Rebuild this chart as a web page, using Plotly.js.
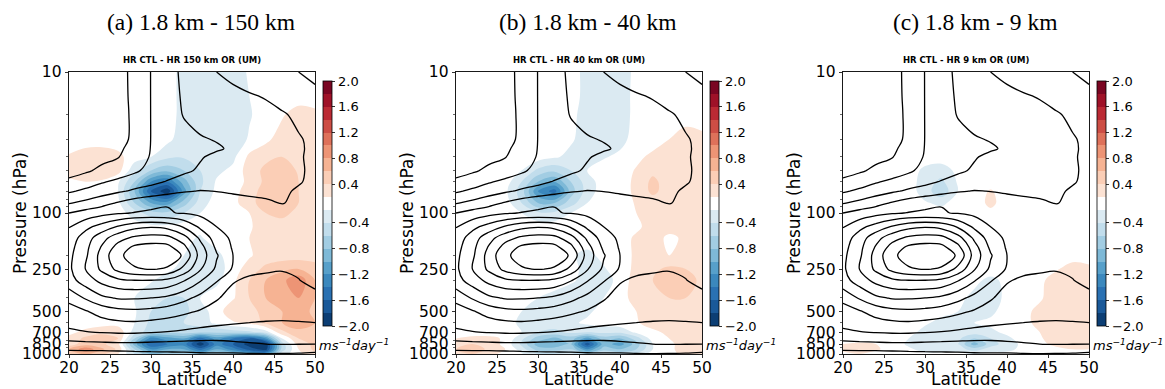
<!DOCTYPE html>
<html>
<head>
<meta charset="utf-8">
<script src="https://cdn.plot.ly/plotly-3.0.1.min.js"></script>
<style>html,body{margin:0;padding:0;background:#fff;}#chart{width:1165px;height:389px;}</style>
</head>
<body>
<div id="chart"></div>
<script>
// ---------------- DATA ----------------
const lats = [20,22,24,26,28,30,32,34,36,38,40,42,44,46,48,50];

// Pressure levels (hPa) for the control zonal wind (black contours)
const pWind = [10,15,20,30,35,40,50,60,70,85,100,125,150,175,200,250,300,400,500,600,700,850,1000];
// Zonal wind (m/s), rows = pWind, cols = lats
const windCTL = [
  [-8,-6,-4,-2,1.5,5.1,8.5,10.8,13,15,16,17,18,19,20,21],
  [-7,-5.5,-3.5,-1.8,1.2,5.1,8.3,10.5,12,13,14,14.6,15.2,16.5,18,19],
  [-6,-4.5,-3,-1.5,0.8,5.1,8.2,10.2,11.3,12.3,13,13.5,14,14.6,15.8,17],
  [-5,-3.5,-2,-1,0.6,5.1,7.8,8.9,9.7,10.2,10.8,12.2,13.2,14,14.7,15.8],
  [-4.5,-3,-1.6,-0.5,1,5.2,7.5,8.8,9.3,9.6,10.5,12,13,13.8,14.6,15.7],
  [-4,-2.5,-1.3,-0.2,2.3,5.4,7.4,8.8,9.7,10.8,11.8,12.6,13.3,14,14.7,15.7],
  [-2,-0.7,1,2.5,4.2,6.5,7.8,9.3,10.5,11.5,12.3,13,13.6,14.2,14.7,15.5],
  [1,2.5,4.5,6,7.5,8.8,10.3,11.5,12.3,12.8,13.2,13.6,14,14.4,14.8,15.6],
  [4.3,6,7.8,9.3,10.8,12,13.3,14.6,15.2,14.9,14.5,14.2,14.3,14.6,15.3,16],
  [9.7,11.3,13.2,15.5,17.5,19,19.8,19.2,18.2,17.3,16.6,16,15.4,14.9,15.5,16.5],
  [15,16.8,18.3,19.5,20.2,20.5,20.3,19.7,18.7,17.6,17,16.5,16.3,16.2,16.5,17],
  [19.8,23.5,27,30.5,33.5,34.5,33.5,29.5,24,20,18,17.5,17.3,17.3,17.3,17.5],
  [22,27.5,33,38,41,42,41.5,37,29,22.5,19,18.5,18.5,18.5,18.5,18],
  [23.2,28.5,35.5,42,46,47,46.5,41.5,32,24,19.5,19,19,19,19,18.5],
  [23.8,29,37,44,47,48,47.5,44.5,33,25.5,20,19.5,19.5,19.5,19.5,19],
  [24,30,36,41.5,44.5,45.3,44.5,38.5,30.5,24,19.5,16.5,15.7,15.3,16,18],
  [23,27.5,31.5,34,35,35,34,30.5,25.5,20.5,15.5,14,13.8,13.8,14.8,17],
  [17,20.5,24,25.5,25.5,25,24,21.5,18.5,15.5,13,12,12,12.2,12.5,13],
  [12,14.5,17,18.5,19,18.5,17.5,16,14.5,13,12,11.5,11.3,11.3,11.5,12],
  [11,12,13.3,14.2,14.5,14,13.3,12.5,11.5,10.8,10.3,10,9.8,9.7,9.8,10],
  [9.3,9.8,10.3,10.6,10.6,10.3,9.8,9.2,8.6,8.3,8.3,8.5,8.5,8.3,8.1,8],
  [3.5,3.8,4,4.2,4.2,4,3.8,3.6,3.5,3.6,4,4.5,5,5.2,5.1,5],
  [-2,-2,-2,-1.8,-1.5,-1.2,-1,-0.8,-0.5,-0.5,-0.5,-0.3,-0.2,-0.3,-0.5,-1]
];

// Pressure levels (hPa) for the shaded differences
const pShade = [10,15,20,30,40,50,60,70,85,100,125,150,200,250,300,400,500,600,700,775,850,925,1000];

// (a) HR CTL - HR 150 km OR (UM), m s-1 day-1
const diff150 = [
  [0,0,0,0,0,0,0.05,-0.3,-0.35,-0.35,-0.3,-0.15,0,0,0,0],
  [0,0,0,0,0,0,0,-0.28,-0.35,-0.38,-0.32,-0.2,0,0,0,0],
  [0,0,0,0,0,0,0,-0.28,-0.35,-0.4,-0.35,-0.22,0,0.15,0.3,0.25],
  [0,0,0,0,0,0,-0.1,-0.3,-0.38,-0.38,-0.33,-0.15,0.1,0.3,0.32,0.3],
  [0.22,0.3,0.32,0.25,0,-0.2,-0.35,-0.38,-0.38,-0.35,-0.25,0.25,0.35,0.4,0.38,0.3],
  [0.25,0.35,0.35,0.28,-0.35,-0.6,-0.75,-0.6,-0.4,-0.25,-0.1,0.3,0.45,0.5,0.38,0.3],
  [0.15,0.2,0.15,-0.15,-0.6,-1.2,-1.4,-0.9,-0.45,-0.15,0,0.25,0.45,0.5,0.4,0.3],
  [0,0,0,-0.2,-0.8,-1.6,-1.95,-1.1,-0.4,-0.1,0.05,0.3,0.5,0.55,0.4,0.3],
  [0,0,0,-0.1,-0.6,-1.0,-1.1,-0.7,-0.3,0,0.1,0.3,0.55,0.55,0.4,0.3],
  [0,0,0,0,-0.3,-0.5,-0.55,-0.4,-0.2,0,0,0.2,0.4,0.45,0.35,0.3],
  [0,0,0,0,0,-0.1,-0.1,0,-0.1,0,0,0.15,0.3,0.32,0.3,0.3],
  [0,0,0,0,0,0,0,-0.1,-0.22,0,0.05,0.2,0.3,0.3,0.3,0.3],
  [0,0,0,0,0,0,0,-0.2,-0.35,-0.25,0,0.15,0.3,0.3,0.3,0.3],
  [0,0,0,0,0,0,-0.1,-0.28,-0.35,-0.3,0,0.3,0.45,0.55,0.6,0.5],
  [0,0,0,0,0,-0.15,-0.3,-0.35,-0.35,-0.25,0.1,0.4,0.6,0.75,0.95,0.6],
  [0,0,0,0,-0.2,-0.35,-0.4,-0.4,-0.2,0,0.15,0.4,0.6,0.7,0.8,0.6],
  [0,0,0,0,-0.15,-0.4,-0.5,-0.45,-0.3,0,0.35,0.3,0.5,0.6,0.7,0.55],
  [0,0,0,0,-0.2,-0.45,-0.45,-0.4,-0.3,-0.1,0.15,0.25,0.45,0.6,0.7,0.6],
  [0.1,0.25,0.35,0.35,-0.3,-0.5,-0.55,-0.5,-0.55,-0.55,-0.5,-0.45,-0.3,0.35,0.55,0.5],
  [0.25,0.45,0.5,0.4,-0.6,-1.3,-1.1,-1.0,-1.5,-1.1,-1.4,-1.6,-1.2,-0.2,0.4,0.5],
  [0.3,0.5,0.45,0.25,-0.9,-1.6,-1.4,-1.3,-1.95,-1.3,-1.6,-1.9,-1.95,-0.5,0.3,0.45],
  [0.6,0.95,0.65,0.35,-0.6,-1.2,-1.0,-1.0,-1.5,-1.0,-1.3,-1.7,-1.9,-0.5,0.2,0.45],
  [0.45,0.65,0.45,0.2,-0.4,-0.8,-0.7,-0.6,-0.9,-0.6,-0.8,-1.0,-1.2,-0.3,0.1,0.35]
];

// (b) HR CTL - HR 40 km OR (UM)
const diff40 = [
  [0,0,0,0,0,0,0,0,-0.28,-0.3,-0.3,-0.1,0,0,0,0],
  [0,0,0,0,0,0,0,0,-0.28,-0.3,-0.28,-0.1,0,0,0,0],
  [0,0,0,0,0,0,0,-0.1,-0.28,-0.3,-0.28,-0.1,0,0,0,0],
  [0,0,0,0,0,0,0,-0.15,-0.28,-0.3,-0.28,0,0,0.2,0.3,0.25],
  [0,0,0,0,0,0,-0.15,-0.25,-0.25,-0.22,-0.1,0.1,0.25,0.3,0.3,0.3],
  [0,0,0,0,-0.2,-0.45,-0.55,-0.4,-0.2,0,0,0.22,0.35,0.3,0.3,0.3],
  [0,0,0,0,-0.4,-0.8,-1.0,-0.6,-0.3,0,0,0.25,0.45,0.3,0.3,0.3],
  [0,0,0,-0.1,-0.5,-1.2,-1.5,-0.7,-0.3,0,0,0.25,0.45,0.3,0.3,0.3],
  [0,0,0,0,-0.4,-0.8,-0.8,-0.5,-0.2,0,0,0.22,0.3,0.3,0.3,0.25],
  [0,0,0,0,-0.2,-0.35,-0.35,-0.2,0,0,0.1,0.2,0.25,0.3,0.25,0.2],
  [0,0,0,0,0,0,0,0,0,0,0,0.15,0.25,0.25,0.22,0.2],
  [0,0,0,0,0,0,0,0,0,0,0.1,0.22,0.25,0.15,0.22,0.2],
  [0,0,0,0,0,0,0,-0.15,-0.25,-0.1,0.1,0.22,0.25,0.2,0.25,0.25],
  [0,0,0,0,0,0,0,-0.1,-0.25,-0.22,0,0.25,0.35,0.45,0.4,0.3],
  [0,0,0,0,0,0,-0.05,-0.15,-0.25,-0.3,-0.05,0.3,0.4,0.55,0.5,0.35],
  [0,0,0,0,-0.1,-0.2,-0.25,-0.3,-0.3,-0.2,0,0.3,0.35,0.4,0.4,0.3],
  [0,0,0,0,-0.2,-0.3,-0.35,-0.3,-0.25,0,0.1,0.2,0.3,0.35,0.35,0.3],
  [0,0,0,0,-0.25,-0.3,-0.3,-0.25,-0.1,0,0.05,0.15,0.3,0.35,0.35,0.3],
  [0,0,0,0.1,-0.2,-0.4,-0.45,-0.35,-0.4,-0.35,-0.35,-0.1,0.1,0.25,0.3,0.25],
  [0.2,0.25,0.25,0.15,-0.35,-0.7,-0.85,-0.7,-1.1,-0.7,-0.8,-0.5,0,0.2,0.3,0.25],
  [0.3,0.4,0.3,0.1,-0.45,-0.9,-1.0,-0.8,-1.75,-0.9,-1.1,-0.7,-0.2,0.1,0.3,0.3],
  [0.4,0.55,0.35,0.2,-0.3,-0.7,-0.7,-0.6,-1.2,-0.7,-0.8,-0.6,-0.2,0.1,0.3,0.3],
  [0.3,0.4,0.25,0.1,-0.15,-0.4,-0.4,-0.35,-0.6,-0.35,-0.45,-0.35,0,0.1,0.25,0.25]
];

// (c) HR CTL - HR 9 km OR (UM)
const diff9 = [
  [0,0,0,0,0,0,0,0,0,0,0,0,0,0,0,0],
  [0,0,0,0,0,0,0,0,0,0,0,0,0,0,0,0],
  [0,0,0,0,0,0,0,0,0,0,0,0,0,0,0,0],
  [0,0,0,0,0,0,0,0,0,0,0,0,0,0,0,0],
  [0,0,0,0,0,0,0,0,0,0,0,0,0,0,0,0],
  [0,0,0,0,0,-0.25,-0.3,-0.1,0,0,0,0,0,0,0,0],
  [0,0,0,0,0,-0.3,-0.45,-0.15,0,0,0,0,0,0,0,0],
  [0,0,0,0,0,-0.3,-0.55,-0.2,0,0.22,0,0,0,0,0,0],
  [0,0,0,0,0,-0.15,-0.25,0,0,0.25,0,0.1,0,0,0,0],
  [0,0,0,0,0,0,0,0,0,0.1,0,0,0,0,0,0],
  [0,0,0,0,0,0,0,0,0,0,0,0,0,0,0,0],
  [0,0,0,0,0,0,0,0,0,0,0,0,0,0,0,0],
  [0,0,0,0,0,0,0,0,0,0,0,0,0,0,0,0],
  [0,0,0,0,0,0,0,0,0,0,0,0,0,0.15,0.3,0.25],
  [0,0,0,0,0,0,0,0,-0.1,-0.25,-0.1,0,0.1,0.3,0.3,0.3],
  [0,0,0,0,0,0,0,-0.1,-0.25,-0.3,-0.1,0,0.15,0.3,0.3,0.3],
  [0,0,0,0,0,0,-0.1,-0.2,-0.25,-0.25,0,0.1,0.25,0.3,0.3,0.3],
  [0,0,0,0,0,-0.15,-0.25,-0.25,-0.2,-0.1,0,0.1,0.25,0.3,0.3,0.3],
  [0,0,0,0,-0.1,-0.25,-0.3,-0.25,-0.3,-0.25,-0.1,0,0.2,0.3,0.3,0.3],
  [0,0.1,0.1,0,-0.2,-0.35,-0.35,-0.35,-0.6,-0.4,-0.25,0,0.15,0.3,0.3,0.3],
  [0.2,0.22,0.2,0.1,-0.25,-0.4,-0.4,-0.4,-0.9,-0.5,-0.3,-0.1,0.1,0.25,0.3,0.25],
  [0.25,0.25,0.22,0.1,-0.1,-0.3,-0.3,-0.3,-0.5,-0.3,-0.25,-0.1,0,0.1,0.2,0.2],
  [0.1,0.2,0.1,0,0,-0.1,-0.1,-0.1,-0.2,-0.1,-0.1,0,0,0,0.1,0.1]
];

// Shading level boundaries and colorbar labels
const shadeLevels = [-2,-1.8,-1.6,-1.4,-1.2,-1,-0.8,-0.6,-0.4,-0.2,0.2,0.4,0.6,0.8,1,1.2,1.4,1.6,1.8,2];
const cbTickValues = [-2,-1.6,-1.2,-0.8,-0.4,0.4,0.8,1.2,1.6,2];
const cbTickText = ['\u22122.0','\u22121.6','\u22121.2','\u22120.8','\u22120.4','0.4','0.8','1.2','1.6','2.0'];
const bandColors = ['rgb(12,62,116)','rgb(26,89,153)','rgb(42,113,178)','rgb(59,136,189)','rgb(87,160,202)',
  'rgb(126,185,215)','rgb(162,205,227)','rgb(193,221,236)','rgb(219,234,242)','rgb(255,255,255)',
  'rgb(252,226,211)','rgb(251,206,182)','rgb(246,179,147)','rgb(237,148,117)','rgb(222,113,90)',
  'rgb(205,78,69)','rgb(187,42,52)','rgb(159,18,40)','rgb(122,6,34)'];
const windLevels = {start: 0, end: 45, size: 5};

const panelTitles = ['(a) 1.8 km - 150 km','(b) 1.8 km - 40 km','(c) 1.8 km - 9 km'];
const panelSubtitles = ['HR CTL - HR 150 km OR (UM)','HR CTL - HR 40 km OR (UM)','HR CTL - HR 9 km OR (UM)'];
const xTicks = [20,25,30,35,40,45,50];
const yTicks = [10,100,250,500,700,850,1000];
const yMinor = [20,30,40,50,60,70,80,90,200,300,400,600,800,900];

// ---------------- BUILD ----------------
function levelIndex(v){
  const n = shadeLevels.length;
  if (v <= shadeLevels[0]) return 0.001;
  if (v >= shadeLevels[n-1]) return n-1-0.001;
  for (let i=0;i<n-1;i++){
    if (v >= shadeLevels[i] && v <= shadeLevels[i+1]){
      return i + (v-shadeLevels[i])/(shadeLevels[i+1]-shadeLevels[i]);
    }
  }
  return 9.5;
}
const nBands = shadeLevels.length-1;
const stepScale = [];
bandColors.forEach((c,k)=>{ stepScale.push([k/nBands,c]); stepScale.push([(k+1)/nBands,c]); });
const cbTickIdx = cbTickValues.map(levelIndex).map(v=>Math.round(v));

const W=1165, H=389;
const fields = [diff150, diff40, diff9];
const traces = [];
const layout = {
  width: W, height: H, margin:{l:0,r:0,t:0,b:0},
  paper_bgcolor:'#fff', plot_bgcolor:'#fff', showlegend:false,
  font:{family:'DejaVu Sans', color:'#000'},
  annotations: []
};
const plotTop=72, plotBot=354, pW=246, pitch=387, x0first=69;

fields.forEach((f,k)=>{
  const x0 = x0first + pitch*k, x1 = x0 + pW;
  const sfx = k===0 ? '' : String(k+1);
  const xa = 'x'+sfx, ya = 'y'+sfx;
  traces.push({
    type:'contour', x: lats, y: pShade, z: f.map(r=>r.map(levelIndex)),
    xaxis: xa, yaxis: ya,
    zmin:0, zmax:nBands, zauto:false, autocontour:false,
    contours:{start:0, end:nBands, size:1, coloring:'fill', showlines:false},
    colorscale: stepScale, line:{width:0, smoothing:1},
    hoverinfo:'skip',
    colorbar:{
      x:(x0+254)/W, xanchor:'left', xref:'paper', y:1-((81+326)/2)/H, yanchor:'middle', yref:'paper',
      len:245/H, lenmode:'fraction', thickness:9, thicknessmode:'pixels', xpad:0, ypad:0,
      outlinewidth:0.8, outlinecolor:'#000',
      tickmode:'array', tickvals: cbTickIdx, ticktext: cbTickText,
      ticks:'outside', ticklen:3.5, tickwidth:0.8, tickcolor:'#000',
      tickfont:{family:'DejaVu Sans', size:13, color:'#000'}
    }
  });
  traces.push({
    type:'contour', x: lats, y: pWind, z: windCTL, xaxis: xa, yaxis: ya,
    showscale:false, autocontour:false,
    contours:{start:windLevels.start, end:windLevels.end, size:windLevels.size, coloring:'none'},
    line:{color:'#000', width:1.3, smoothing:1}, hoverinfo:'skip'
  });
  layout['xaxis'+sfx] = {
    domain:[x0/W, x1/W], anchor: ya, range:[20,50], tickmode:'array', tickvals:xTicks,
    ticks:'outside', ticklen:3.5, tickwidth:0.8, tickcolor:'#000', ticklabelstandoff:-4,
    showline:true, mirror:true, linecolor:'#000', linewidth:0.9,
    showgrid:false, zeroline:false, tickfont:{family:'DejaVu Sans', size:15.5, color:'#000'}
  };
  layout['yaxis'+sfx] = {
    domain:[1-plotBot/H, 1-plotTop/H], anchor: xa, type:'log', range:[3,1],
    tickmode:'array', tickvals:yTicks, ticktext:yTicks.map(String),
    ticks:'outside', ticklen:3.5, tickwidth:0.8, tickcolor:'#000',
    minor:{tickmode:'array', tickvals:yMinor, ticks:'outside', ticklen:2, tickwidth:0.6, tickcolor:'#000', showgrid:false},
    showline:true, mirror:true, linecolor:'#000', linewidth:0.9,
    showgrid:false, zeroline:false, tickfont:{family:'DejaVu Sans', size:15.5, color:'#000'}
  };
  const A = layout.annotations;
  A.push({text:panelTitles[k], xref:'paper', yref:'paper', x:(x0+132)/W, y:1-22/H, xanchor:'center', yanchor:'middle',
    showarrow:false, font:{family:'Liberation Serif', size:23.5, color:'#000'}});
  A.push({text:'<b>'+panelSubtitles[k]+'</b>', xref:'paper', yref:'paper', x:(x0+123)/W, y:1-60/H, xanchor:'center', yanchor:'middle',
    showarrow:false, font:{family:'DejaVu Sans', size:8.5, color:'#000'}});
  A.push({text:'Pressure (hPa)', xref:'paper', yref:'paper', x:(x0-49)/W, y:1-213/H, xanchor:'center', yanchor:'middle',
    textangle:-90, showarrow:false, font:{family:'DejaVu Sans', size:17, color:'#000'}});
  A.push({text:'Latitude', xref:'paper', yref:'paper', x:(x0+123)/W, y:1-379/H, xanchor:'center', yanchor:'middle',
    showarrow:false, font:{family:'DejaVu Sans', size:17, color:'#000'}});
  A.push({text:'<i>ms<sup>\u22121</sup>day<sup>\u22121</sup></i>', xref:'paper', yref:'paper', x:(x0+248)/W, y:1-345/H,
    xanchor:'left', yanchor:'middle', showarrow:false, font:{family:'DejaVu Sans', size:13, color:'#000'}});
});

Plotly.newPlot('chart', traces, layout, {staticPlot:true, displayModeBar:false});
</script>
</body>
</html>
